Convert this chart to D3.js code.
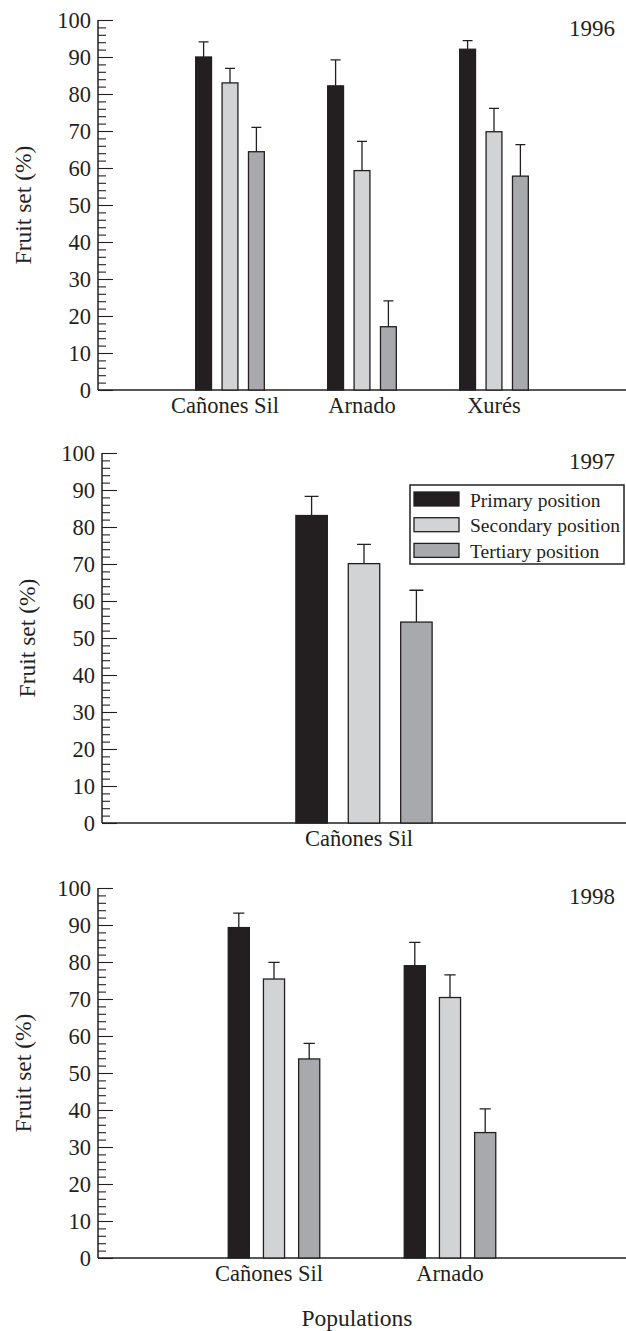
<!DOCTYPE html>
<html>
<head>
<meta charset="utf-8">
<script src="https://cdnjs.cloudflare.com/ajax/libs/d3/7.8.5/d3.min.js"></script>
<style>
	body { margin: 0; background: #fff; }
	text { font-family: "Liberation Serif", "Times New Roman", serif; fill: #231f20; }
</style>
</head>
<body>
<div id="container"></div>
<script>
// data
var series = ["Primary position", "Secondary position", "Tertiary position"];
var colours = ["#231f20", "#d1d3d4", "#a7a9ac"];

var years = ["1996", "1997", "1998"];

var pops1996 = ["Cañones Sil", "Arnado", "Xurés"];
var mean1996 = [[90, 83, 64.4], [82.2, 59.3, 17.1], [92.1, 69.8, 57.8]];
var err1996  = [[94.1, 86.9, 71], [89.2, 67.2, 24.1], [94.4, 76.1, 66.3]];

var pops1997 = ["Cañones Sil"];
var mean1997 = [[83.1, 70.1, 54.3]];
var err1997  = [[88.3, 75.3, 62.9]];

var pops1998 = ["Cañones Sil", "Arnado"];
var mean1998 = [[89.3, 75.4, 53.8], [79, 70.4, 33.9]];
var err1998  = [[93.2, 79.9, 58], [85.3, 76.5, 40.3]];

var yTicks = d3.range(0, 101, 10);

var width = 626,
	height = 1331;

var svg = d3.select("#container")
	.append("svg")
		.attr("width", width)
		.attr("height", height);

var panels = [
	{year: years[0], pops: pops1996, mean: mean1996, err: err1996, left: 98, top: 20, bottom: 390, legend: false},
	{year: years[1], pops: pops1997, mean: mean1997, err: err1997, left: 102, top: 453, bottom: 823, legend: true},
	{year: years[2], pops: pops1998, mean: mean1998, err: err1998, left: 98, top: 888, bottom: 1258, legend: false}
];

panels.forEach(function(p){
	var g = svg.append("g");

	var yScale = d3.scaleLinear()
		.domain([0, 100])
		.range([p.bottom, p.top]);

	// one empty slot each side of the groups
	var xScale = d3.scaleLinear()
		.domain([0, p.pops.length + 1])
		.range([p.left, width]);

	var unit = xScale(1) - xScale(0);

	var inner = d3.scaleBand()
		.domain(series)
		.range([-0.26*unit, 0.26*unit])
		.paddingInner(0.4);

	var bw = inner.bandwidth(),
		capW = 6 + bw*0.25;

	// y axis, major ticks every 10, minor every 2, pointing inward
	var yAxis = d3.axisRight(yScale)
		.tickValues(d3.range(0, 101, 2))
		.tickSize(8)
		.tickFormat("");

	var ya = g.append("g")
		.attr("transform", "translate(" + p.left + ",0)")
		.call(yAxis);
	ya.select(".domain").remove();
	ya.selectAll(".tick line")
		.attr("stroke", "#231f20")
		.attr("stroke-width", 1.1)
		.attr("x2", function(d){ return d % 10 == 0 ? 15 : 8; });

	g.append("line")
		.attr("x1", p.left).attr("x2", p.left)
		.attr("y1", yScale(100)).attr("y2", yScale(0))
		.attr("stroke", "#231f20")
		.attr("stroke-width", 1.5);

	g.selectAll(".ylab")
		.data(yTicks)
		.enter().append("text")
		.attr("x", p.left - 7)
		.attr("y", function(d){ return yScale(d); })
		.attr("dy", "0.34em")
		.attr("text-anchor", "end")
		.style("font-size", "22.5px")
		.text(function(d){ return d; });

	g.append("text")
		.attr("transform", "translate(" + (p.left - 75) + "," + yScale(50) + ") rotate(-90)")
		.attr("dy", "0.34em")
		.attr("text-anchor", "middle")
		.style("font-size", "23.5px")
		.text("Fruit set (%)");

	// x axis
	g.append("line")
		.attr("x1", p.left).attr("x2", width)
		.attr("y1", yScale(0)).attr("y2", yScale(0))
		.attr("stroke", "#231f20")
		.attr("stroke-width", 1.5);

	g.selectAll(".xlab")
		.data(p.pops)
		.enter().append("text")
		.attr("x", function(d, i){ return xScale(i + 1) - (d == "Cañones Sil" ? 5 : 0); })
		.attr("y", yScale(0) + 23)
		.attr("text-anchor", "middle")
		.style("font-size", "22.5px")
		.text(function(d){ return d; });

	// bars
	var groups = g.selectAll(".grp")
		.data(p.pops)
		.enter().append("g")
		.attr("transform", function(d, i){ return "translate(" + xScale(i + 1) + ",0)"; });

	groups.each(function(pop, gi){
		var grp = d3.select(this);
		var rows = series.map(function(s, si){
			return {s: s, c: colours[si], v: p.mean[gi][si], e: p.err[gi][si]};
		});

		grp.selectAll("path.err")
			.data(rows)
			.enter().append("path")
			.attr("fill", "none")
			.attr("stroke", "#231f20")
			.attr("stroke-width", 1.3)
			.attr("d", function(d){
				var cx = inner(d.s) + bw/2;
				return "M" + cx + "," + yScale(d.v) + "V" + yScale(d.e) +
					"M" + (cx - capW/2) + "," + yScale(d.e) + "H" + (cx + capW/2);
			});

		grp.selectAll("rect")
			.data(rows)
			.enter().append("rect")
			.attr("x", function(d){ return inner(d.s); })
			.attr("y", function(d){ return yScale(d.v); })
			.attr("width", bw)
			.attr("height", function(d){ return yScale(0) - yScale(d.v); })
			.style("fill", function(d){ return d.c; })
			.attr("stroke", "#231f20")
			.attr("stroke-width", 1.3);
	});

	g.append("text")
		.attr("x", 615)
		.attr("y", p.top + 16)
		.attr("text-anchor", "end")
		.style("font-size", "23px")
		.text(p.year);

	if (p.legend) {
		var lg = g.append("g")
			.attr("transform", "translate(410," + (p.top + 32) + ")");
		lg.append("rect")
			.attr("width", 214)
			.attr("height", 79)
			.attr("fill", "#fff")
			.attr("stroke", "#231f20")
			.attr("stroke-width", 1.5);
		var item = lg.selectAll(".item")
			.data(series)
			.enter().append("g")
			.attr("transform", function(d, i){ return "translate(4," + (7 + i*25.7) + ")"; });
		item.append("rect")
			.attr("width", 45)
			.attr("height", 14)
			.style("fill", function(d, i){ return colours[i]; })
			.attr("stroke", "#231f20")
			.attr("stroke-width", 1.3);
		item.append("text")
			.attr("x", 56)
			.attr("y", 14.5)
			.style("font-size", "19.5px")
			.text(function(d){ return d; });
	}
});

svg.append("text")
	.attr("x", 357)
	.attr("y", 1326)
	.attr("text-anchor", "middle")
	.style("font-size", "23.5px")
	.text("Populations");
</script>
</body>
</html>
